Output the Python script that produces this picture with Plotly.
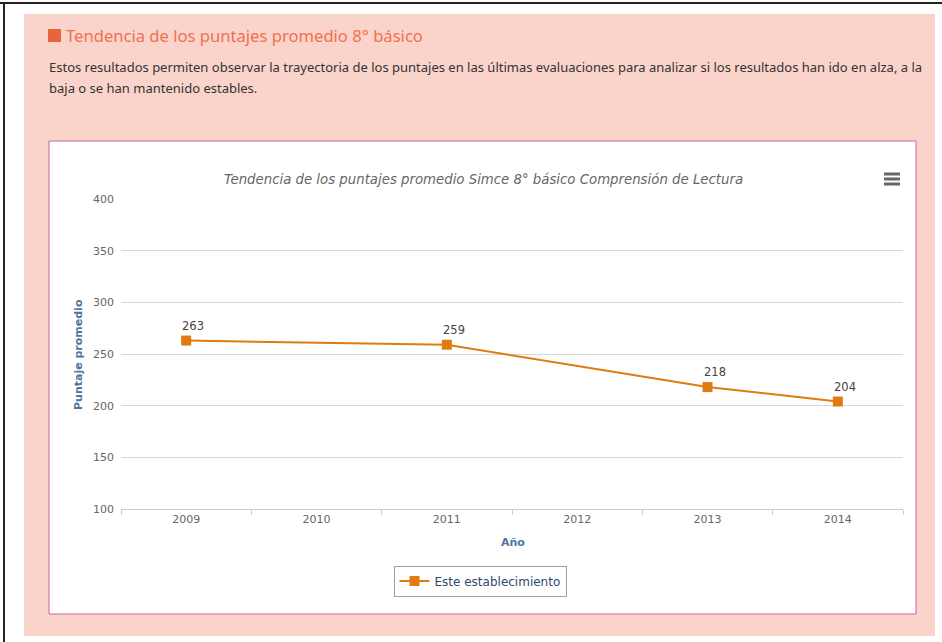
import plotly.graph_objects as go

W, H = 942, 642
# plot area in pixels (left, right, top, bottom)
PL, PR, PT, PB = 121, 903, 199, 509

years = ["2009", "2010", "2011", "2012", "2013", "2014"]
scores = [263, None, 259, None, 218, 204]
series_name = "Este establecimiento"

header_title = "Tendencia de los puntajes promedio 8° básico"
header_line1 = ("Estos resultados permiten observar la trayectoria de los puntajes en las últimas "
                "evaluaciones para analizar si los resultados han ido en alza, a la")
header_line2 = "baja o se han mantenido estables."
chart_title = "Tendencia de los puntajes promedio Simce 8° básico Comprensión de Lectura"

ORANGE = "#E07B10"
PINK_BG = "#FAD4CA"
AXIS_BLUE = "#4D759E"


def px_x(p):
    return (p - PL) / (PR - PL)


def px_y(p):
    return (PB - p) / (PB - PT)


trace = go.Scatter(
    x=years,
    y=scores,
    name=series_name,
    mode="lines+markers",
    connectgaps=True,
    line=dict(color=ORANGE, width=2),
    marker=dict(symbol="square", size=10, color=ORANGE),
    hoverinfo="x+y",
)

fig = go.Figure(data=[trace])

shapes = [
    # page border
    dict(type="line", x0=px_x(0), x1=px_x(W), y0=px_y(3), y1=px_y(3),
         line=dict(color="#222", width=2)),
    dict(type="line", x0=px_x(4), x1=px_x(4), y0=px_y(3), y1=px_y(H),
         line=dict(color="#222", width=2)),
    # pink panel
    dict(type="rect", x0=px_x(24), x1=px_x(935), y0=px_y(14), y1=px_y(636),
         fillcolor=PINK_BG, line=dict(width=0), layer="below"),
    # white chart box
    dict(type="rect", x0=px_x(49), x1=px_x(916), y0=px_y(141), y1=px_y(614),
         fillcolor="white", line=dict(color="#C8649A", width=1), layer="below"),
    # header square
    dict(type="rect", x0=px_x(48), x1=px_x(61), y0=px_y(29), y1=px_y(42),
         fillcolor="#E8643C", line=dict(width=0)),
]
# menu icon
for yy in (174, 179, 184):
    shapes.append(dict(type="line", x0=px_x(884), x1=px_x(900), y0=px_y(yy), y1=px_y(yy),
                       line=dict(color="#666", width=3)))

annotations = [
    dict(text=header_title, x=px_x(64), y=px_y(35), xanchor="left", yanchor="middle",
         font=dict(family="Noto Sans", size=16.6, color="#F0704F")),
    dict(text=header_line1, x=px_x(47), y=px_y(67), xanchor="left", yanchor="middle",
         font=dict(family="Noto Sans", size=13, color="#333")),
    dict(text=header_line2, x=px_x(47), y=px_y(88), xanchor="left", yanchor="middle",
         font=dict(family="Noto Sans", size=13, color="#333")),
    dict(text="<i>" + chart_title + "</i>", x=px_x(483), y=px_y(179), xanchor="center",
         yanchor="middle", font=dict(family="DejaVu Sans", size=13.3, color="#666")),
    dict(text="<b>Puntaje promedio</b>", x=px_x(78), y=px_y(355), textangle=-90,
         xanchor="center", yanchor="middle",
         font=dict(family="DejaVu Sans", size=11, color=AXIS_BLUE)),
    dict(text="<b>Año</b>", x=px_x(513), y=px_y(542), xanchor="center", yanchor="middle",
         font=dict(family="DejaVu Sans", size=11, color=AXIS_BLUE)),
]
for k in range(len(annotations)):
    annotations[k].update(xref="paper", yref="paper", showarrow=False)

# data labels (category index on the x axis)
for i, v in enumerate(scores):
    if v is None:
        continue
    annotations.append(dict(x=i, y=v, xref="x", yref="y", text=str(v), showarrow=False,
                            xshift=7, yshift=15, yanchor="middle",
                            font=dict(family="DejaVu Sans", size=11.5, color="#444")))

for s in shapes:
    s.update(xref="paper", yref="paper")

fig.update_layout(
    width=W, height=H,
    margin=dict(l=PL, r=W - PR, t=PT, b=H - PB, pad=0),
    paper_bgcolor="white",
    plot_bgcolor="rgba(0,0,0,0)",
    font=dict(family="DejaVu Sans", size=11, color="#666"),
    shapes=shapes,
    annotations=annotations,
    showlegend=True,
    legend=dict(orientation="h", x=px_x(480), y=px_y(581), xanchor="center", yanchor="middle",
                bgcolor="white", bordercolor="#A0A0A0", borderwidth=1, itemwidth=30,
                font=dict(family="DejaVu Sans", size=12, color="#2E4A6B")),
    xaxis=dict(type="category", range=[-0.5, 5.5], showgrid=False, zeroline=False,
               showline=True, linecolor="#C0D0E0", linewidth=1,
               ticks="outside", tickson="boundaries", ticklen=5, tickcolor="#C0D0E0",
               tickfont=dict(size=11, color="#666")),
    yaxis=dict(range=[100, 400], dtick=50, showgrid=True, gridcolor="#D8D8D8", gridwidth=1,
               zeroline=False, showline=False, ticks="", ticklabelstandoff=6,
               tickfont=dict(size=11, color="#666")),
)

# drop the default body margin so the figure starts at the page corner
fig.write_html("out.html", config={"displayModeBar": False},
               post_script="document.body.style.margin='0';")
